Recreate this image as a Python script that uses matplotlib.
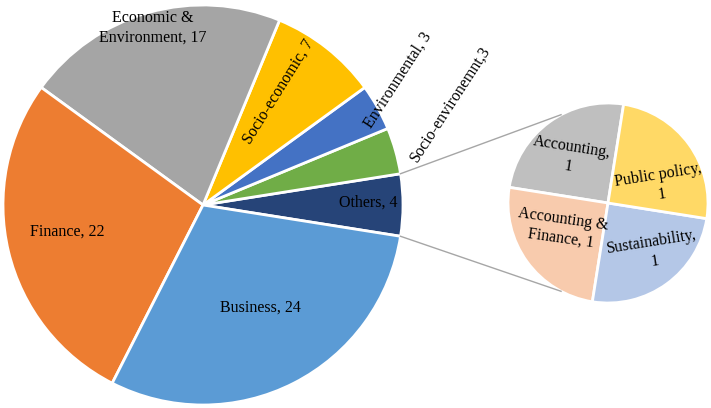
import numpy as np
import matplotlib.pyplot as plt

# main pie, counter-clockwise starting from the "Others" slice
main_labels = ['Others', 'Socio-environemnt', 'Environmental', 'Socio-economic',
               'Economic &\nEnvironment', 'Finance', 'Business']
main_values = [4, 3, 3, 7, 17, 22, 24]
main_colors = ['#264478', '#70AD47', '#4472C4', '#FFC000',
               '#A5A5A5', '#ED7D31', '#5B9BD5']

# breakdown of "Others"
sub_labels = ['Accounting', 'Accounting &\nFinance', 'Sustainability', 'Public policy']
sub_values = [1, 1, 1, 1]
sub_colors = ['#BFBFBF', '#F8CBAD', '#B4C7E7', '#FFD966']

W, H = 711, 408
plt.rcParams['font.family'] = ['Liberation Serif', 'DejaVu Serif']

fig = plt.figure(figsize=(W / 100, H / 100), dpi=100)
ax = fig.add_axes([0, 0, 1, 1])
ax.set_xlim(0, W)
ax.set_ylim(0, H)
ax.set_aspect('equal')
ax.axis('off')


def py(y):
    # pixel row -> data y
    return H - y


main_c = (203, py(205))
main_r = 200
sub_c = (608, py(203))
sub_r = 100

others_half = main_values[0] / sum(main_values) * 180
ax.pie(main_values, colors=main_colors, startangle=-others_half,
       center=main_c, radius=main_r, counterclock=True,
       wedgeprops=dict(edgecolor='white', linewidth=2))
ax.pie(sub_values, colors=sub_colors, startangle=81, center=sub_c,
       radius=sub_r, counterclock=True,
       wedgeprops=dict(edgecolor='white', linewidth=2))
ax.set_xlim(0, W)
ax.set_ylim(0, H)

# connector lines between "Others" and the secondary pie
for a_main, a_sub in [(others_half, 118), (-others_half, 242)]:
    x0 = main_c[0] + main_r * np.cos(np.radians(a_main))
    y0 = main_c[1] + main_r * np.sin(np.radians(a_main))
    x1 = sub_c[0] + sub_r * np.cos(np.radians(a_sub))
    y1 = sub_c[1] + sub_r * np.sin(np.radians(a_sub))
    ax.plot([x0, x1], [y0, y1], color='#A6A6A6', lw=1)

fs = 11.5
# label positions in pixels (x, y, rotation)
main_pos = [(368, 203, 0), (450, 104, 57), (398, 80, 57), (278, 92, 58),
            (153, 28, 0), (67, 232, 0), (260, 308, 0)]
for lab, val, (x, y, rot) in zip(main_labels, main_values, main_pos):
    sep = '' if lab.startswith('Socio-env') else ' '
    ax.text(x, py(y), f'{lab},{sep}{val}', ha='center', va='center',
            rotation=rot, fontsize=fs, linespacing=1.3,
            rotation_mode='anchor')

sub_pos = [(570, 157, -9), (562, 229, -8), (653, 252, 9), (660, 185, 9)]
for lab, val, (x, y, rot) in zip(sub_labels, sub_values, sub_pos):
    if '\n' in lab:
        txt = f'{lab}, {val}'
    else:
        txt = f'{lab},\n{val}'
    ax.text(x, py(y), txt, ha='center', va='center', rotation=rot,
            fontsize=fs, linespacing=1.3, rotation_mode='anchor')

fig.savefig('out.png', dpi=100)
